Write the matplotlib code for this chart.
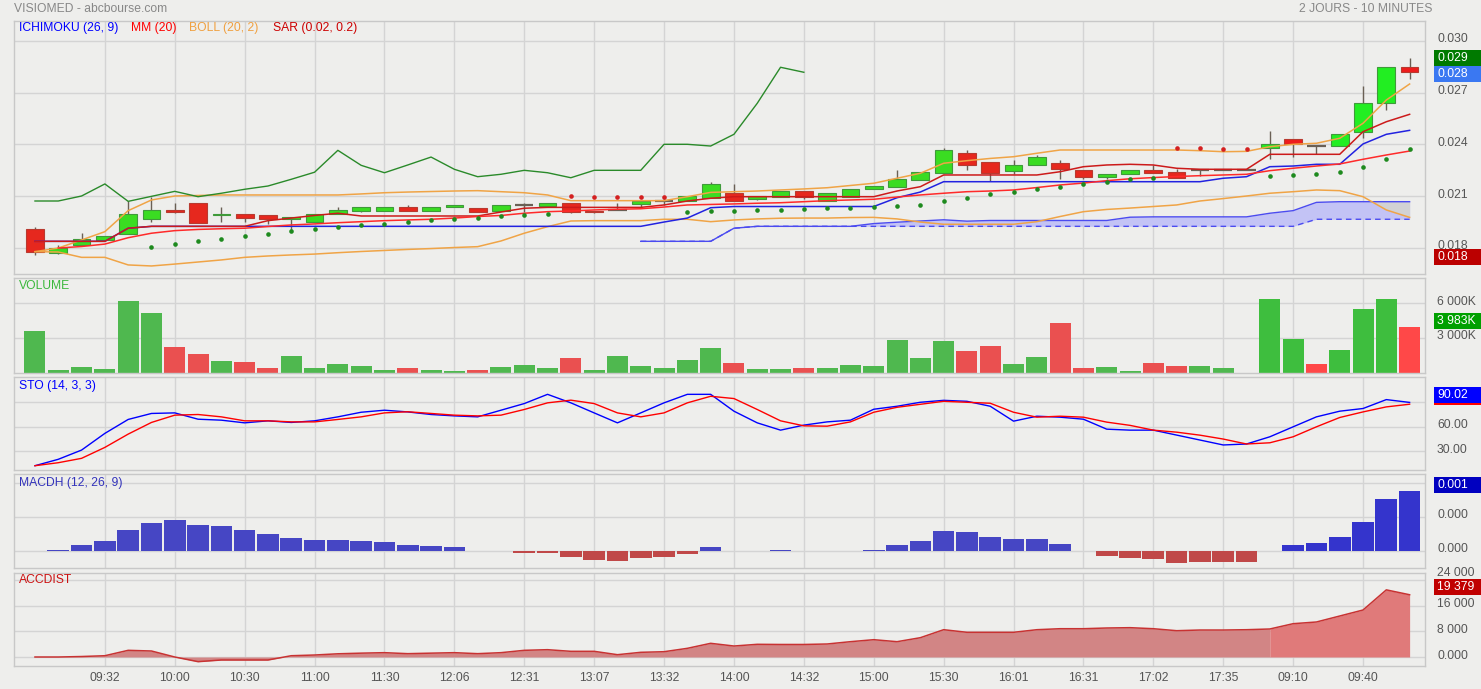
import numpy as np
import matplotlib
matplotlib.use('Agg')
import matplotlib.pyplot as plt
from matplotlib.patches import Rectangle

plt.rcParams['font.family'] = ['Liberation Sans', 'DejaVu Sans']

# ---- data (10 minute candles, 2 sessions) ----
tick_pos = [3, 6, 9, 12, 15, 18, 21, 24, 27, 30, 33, 36, 39, 42, 45, 48, 51, 54, 57]
tick_labels = ['09:32', '10:00', '10:30', '11:00', '11:30', '12:06', '12:31', '13:07', '13:32',
               '14:00', '14:32', '15:00', '15:30', '16:01', '16:31', '17:02', '17:35', '09:10', '09:40']
day2_start = 53

opens = [0.01907, 0.01767, 0.01814, 0.01846, 0.01878, 0.01965, 0.02019, 0.02059, 0.01988, 0.01996,
         0.0199, 0.01965, 0.01947, 0.01997, 0.02015, 0.02015, 0.02034, 0.02015, 0.02034, 0.02029,
         0.02015, 0.02048, 0.02044, 0.02059, 0.02013, 0.02016, 0.02055, 0.02071, 0.02069, 0.02087,
         0.02119, 0.02084, 0.02094, 0.02127, 0.02073, 0.02096, 0.02141, 0.02154, 0.02195, 0.02235,
         0.02348, 0.02296, 0.02247, 0.02278, 0.0229, 0.02249, 0.02212, 0.02226, 0.02249, 0.02238,
         0.02249, 0.02249, 0.02249, 0.02377, 0.02429, 0.0239, 0.0239, 0.0247, 0.02638, 0.02847]
highs = [0.0192, 0.01816, 0.01887, 0.01868, 0.02071, 0.02096, 0.02061, 0.02059, 0.02034, 0.01996,
         0.0199, 0.01976, 0.01996, 0.02036, 0.02034, 0.02034, 0.0205, 0.02034, 0.02046, 0.02029,
         0.02048, 0.02061, 0.02059, 0.02059, 0.02013, 0.02061, 0.02071, 0.02084, 0.021, 0.02183,
         0.0217, 0.02098, 0.02127, 0.02127, 0.02116, 0.02139, 0.02158, 0.02251, 0.02238, 0.02377,
         0.02367, 0.02296, 0.02309, 0.02338, 0.02309, 0.02249, 0.02226, 0.02249, 0.0228, 0.02257,
         0.02259, 0.02249, 0.02249, 0.02477, 0.02429, 0.0239, 0.02458, 0.02738, 0.02847, 0.02899]
lows = [0.0176, 0.01765, 0.01814, 0.01846, 0.01878, 0.01951, 0.02, 0.01945, 0.01951, 0.01951,
        0.01939, 0.01899, 0.01947, 0.01997, 0.02007, 0.02015, 0.02015, 0.02015, 0.02034, 0.02005,
        0.02015, 0.02009, 0.02044, 0.02, 0.02003, 0.02016, 0.02038, 0.0205, 0.02069, 0.02087,
        0.02069, 0.02077, 0.02094, 0.02083, 0.02073, 0.02096, 0.02141, 0.02154, 0.02195, 0.02235,
        0.02253, 0.02187, 0.02228, 0.02278, 0.022, 0.02197, 0.02197, 0.02226, 0.02235, 0.02206,
        0.02216, 0.02249, 0.02249, 0.02313, 0.02324, 0.02343, 0.0239, 0.02437, 0.02599, 0.02779]
closes = [0.01777, 0.01797, 0.01849, 0.01866, 0.01996, 0.02019, 0.02005, 0.01945, 0.01996, 0.01974,
          0.01965, 0.01976, 0.01996, 0.02017, 0.02034, 0.02034, 0.02015, 0.02034, 0.02046, 0.02005,
          0.02048, 0.02048, 0.02059, 0.02005, 0.02005, 0.02016, 0.02071, 0.02071, 0.021, 0.0217,
          0.02069, 0.02098, 0.02127, 0.02096, 0.02116, 0.02139, 0.02158, 0.02197, 0.02238, 0.02365,
          0.02278, 0.02235, 0.0228, 0.02326, 0.02255, 0.02212, 0.02226, 0.02249, 0.02235, 0.02206,
          0.02249, 0.02249, 0.02249, 0.024, 0.024, 0.0239, 0.02458, 0.02638, 0.02847, 0.02818]

# ichimoku (26, 9)
tenkan = [0.01837, 0.01837, 0.01837, 0.01837, 0.01913, 0.01924, 0.01924, 0.01924, 0.01924, 0.01924,
          0.01957, 0.01972, 0.01987, 0.02, 0.01984, 0.01984, 0.01984, 0.01984, 0.01984, 0.01984,
          0.02007, 0.02029, 0.02034, 0.02034, 0.02034, 0.02034, 0.02034, 0.02048, 0.02071, 0.02087,
          0.02096, 0.02096, 0.02096, 0.02096, 0.02096, 0.02096, 0.02096, 0.02129, 0.02154, 0.02222,
          0.02222, 0.02222, 0.02222, 0.02222, 0.02241, 0.0227, 0.0228, 0.02284, 0.0228, 0.02261,
          0.02255, 0.02255, 0.02255, 0.02342, 0.02342, 0.02342, 0.02342, 0.02473, 0.02531, 0.02574]
kijun = [0.01837, 0.01837, 0.01837, 0.01837, 0.01913, 0.01924, 0.01924, 0.01924, 0.01924, 0.01924,
         0.01924, 0.01924, 0.01924, 0.01924, 0.01924, 0.01924, 0.01924, 0.01924, 0.01924, 0.01924,
         0.01924, 0.01924, 0.01924, 0.01924, 0.01924, 0.01924, 0.01924, 0.01949, 0.01972, 0.02032,
         0.02039, 0.02039, 0.02039, 0.02039, 0.02039, 0.02039, 0.02039, 0.0209, 0.02123, 0.02183,
         0.02183, 0.02183, 0.02183, 0.02183, 0.02183, 0.02183, 0.02183, 0.02183, 0.02183, 0.02183,
         0.02183, 0.02203, 0.02212, 0.0227, 0.02274, 0.02284, 0.02284, 0.02402, 0.02458, 0.02481]
# senkou spans, from candle 26 to the end
span_a = [0.01837, 0.01837, 0.01837, 0.01837, 0.01913, 0.01924, 0.01924, 0.01924, 0.01924, 0.01924,
          0.0194, 0.01948, 0.01955, 0.01962, 0.01954, 0.01958, 0.01958, 0.01958, 0.01958, 0.01958,
          0.01958, 0.01977, 0.01979, 0.01979, 0.01979, 0.01979, 0.01979, 0.02, 0.02015, 0.02063,
          0.02067, 0.02067, 0.02067, 0.02067]
span_b = [0.01837, 0.01837, 0.01837, 0.01837, 0.01913, 0.01924, 0.01924, 0.01924, 0.01924, 0.01924,
          0.01924, 0.01924, 0.01924, 0.01924, 0.01924, 0.01924, 0.01924, 0.01924, 0.01924, 0.01924,
          0.01924, 0.01924, 0.01924, 0.01924, 0.01924, 0.01924, 0.01924, 0.01924, 0.01924, 0.01965,
          0.01965, 0.01965, 0.01965, 0.01965]
# chikou span, candle 0 to 33
chikou = [0.02071, 0.02071, 0.021, 0.0217, 0.02069, 0.02098, 0.02127, 0.02096, 0.02116, 0.02139,
          0.02158, 0.02197, 0.02238, 0.02365, 0.02278, 0.02235, 0.0228, 0.02326, 0.02255, 0.02212,
          0.02226, 0.02249, 0.02235, 0.02206, 0.02249, 0.02249, 0.02249, 0.024, 0.024, 0.0239,
          0.02458, 0.02638, 0.02847, 0.02818]

# MM (20), candle 1 to the end
mm20 = [0.01798, 0.01807, 0.01821, 0.01858, 0.01884, 0.01899, 0.01906, 0.0191, 0.01913,
        0.01923, 0.01932, 0.01938, 0.01945, 0.01951, 0.01957, 0.01961, 0.01965, 0.01972, 0.01981,
        0.01987, 0.02, 0.02009, 0.02013, 0.02019, 0.02023, 0.02026, 0.02036, 0.02048, 0.02051,
        0.02054, 0.02058, 0.02061, 0.02067, 0.02073, 0.02077, 0.02081, 0.02094, 0.02106, 0.02116,
        0.02125, 0.02129, 0.02135, 0.02149, 0.02164, 0.02175, 0.02189, 0.022, 0.02207, 0.02213,
        0.02218, 0.02222, 0.02226, 0.02247, 0.02261, 0.02274, 0.02286, 0.02313, 0.02338, 0.02361]

# BOLL (20, 2)
boll_up = [0.01777, 0.01798, 0.01845, 0.01893, 0.02015, 0.02077, 0.021, 0.02103, 0.02106, 0.02106,
           0.02106, 0.02106, 0.02106, 0.02106, 0.02112, 0.02119, 0.02123, 0.02126, 0.02129, 0.02131,
           0.02125, 0.02119, 0.02106, 0.02073, 0.02073, 0.02073, 0.02073, 0.02073, 0.02096, 0.02121,
           0.02125, 0.02129, 0.02135, 0.02141, 0.02148, 0.02161, 0.02174, 0.02203, 0.02232, 0.0229,
           0.02305, 0.02318, 0.02328, 0.02348, 0.02367, 0.02367, 0.02367, 0.02367, 0.02367, 0.02367,
           0.02363, 0.02357, 0.02359, 0.02386, 0.024, 0.02406, 0.02435, 0.02522, 0.02657, 0.0275]
boll_lo = [0.01777, 0.01775, 0.01744, 0.01744, 0.017, 0.01694, 0.01705, 0.01717, 0.01729, 0.01744,
           0.01752, 0.01758, 0.01763, 0.01771, 0.01778, 0.01784, 0.0179, 0.01795, 0.01801, 0.01806,
           0.01839, 0.01884, 0.01922, 0.01955, 0.01957, 0.01957, 0.01957, 0.01965, 0.01965, 0.01951,
           0.01961, 0.01967, 0.01971, 0.01972, 0.01972, 0.01975, 0.01976, 0.01967, 0.01949, 0.01936,
           0.01936, 0.01936, 0.01936, 0.01951, 0.01981, 0.02009, 0.02022, 0.0203, 0.02039, 0.02048,
           0.02071, 0.02085, 0.021, 0.02116, 0.02125, 0.02135, 0.02131, 0.02096, 0.02019, 0.01976]

# SAR (0.02, 0.2), candle 5 to the end
sar = [0.01806, 0.01823, 0.01841, 0.01852, 0.0187, 0.01881, 0.01899, 0.0191, 0.01922, 0.01933,
       0.01939, 0.01951, 0.01962, 0.01968, 0.01974, 0.01984, 0.0199, 0.01997, 0.02102, 0.02096,
       0.02096, 0.02096, 0.02096, 0.02009, 0.02015, 0.02015, 0.02021, 0.02021, 0.02025, 0.02032,
       0.02032, 0.02038, 0.02044, 0.0205, 0.02073, 0.0209, 0.0211, 0.02125, 0.02142, 0.02154,
       0.02168, 0.02183, 0.02197, 0.02206, 0.0238, 0.0238, 0.02373, 0.02373, 0.02218, 0.02224,
       0.02229, 0.02241, 0.0227, 0.02316, 0.02373]

volume_k = [3613, 250, 530, 336, 6218, 5151, 2210, 1597, 1034, 899,
            420, 1429, 420, 756, 563, 252, 420, 252, 170, 252,
            504, 700, 420, 1260, 250, 1430, 590, 420, 1118, 2100,
            815, 336, 336, 360, 420, 647, 590, 2860, 1260, 2770,
            1850, 2270, 760, 1340, 4290, 420, 500, 170, 840, 590,
            590, 420, 0, 6350, 2940, 756, 1960, 5460, 6360, 3983]

sto_k = [11.9, 19.8, 31.2, 51.8, 69, 76.4, 77.1, 69.3, 68.1, 64.8,
         67.3, 65.3, 67.3, 72.2, 77.9, 80.4, 78.3, 75.1, 73.4, 72.2,
         80.4, 88.6, 100, 89.5, 77.1, 64.8, 77.1, 89.5, 100, 100,
         79.2, 64.8, 55.8, 62, 66, 68.1, 81.6, 85.3, 90.2, 92.6,
         91.4, 85.3, 66.9, 73, 71.8, 69.3, 57, 55.8, 55.8, 49.7,
         43.6, 37.5, 38.7, 47.6, 59.9, 72.2, 79.2, 82.5, 93.5, 90.02]
sto_d = [11.9, 15.6, 21, 34.5, 50.9, 65.3, 74.3, 75.1, 72.2, 67.3,
         67.3, 66, 66, 69, 72.2, 77.1, 78.5, 76.4, 74.3, 73.4,
         74.3, 81.3, 89.5, 92.8, 88.6, 77.1, 72.2, 77.1, 89.5, 97.6,
         94.8, 81.3, 67.3, 61.1, 60.7, 66, 77.9, 84, 87.7, 91.4,
         90.2, 89, 77.9, 71.8, 73, 71.8, 65.7, 61.7, 55.8, 53.3,
         49.6, 44.8, 38.7, 40.2, 47.6, 59.9, 71.4, 78.3, 84.5, 87.8]

macdh = [0, 0.000015, 0.000093, 0.000147, 0.000309, 0.000412, 0.000456, 0.000382, 0.000368, 0.000309,
         0.00025, 0.000191, 0.000162, 0.000162, 0.000147, 0.000132, 0.00009, 0.000074, 0.000059, -0.000005,
         -0.000005, -0.00003, -0.00003, -0.000088, -0.000132, -0.000147, -0.000103, -0.000088, -0.000044, 0.000059,
         0, 0, 0.000012, -0.000005, -0.000005, 0, 0.000015, 0.000088, 0.000147, 0.000294,
         0.000279, 0.000206, 0.000176, 0.000176, 0.000103, 0, -0.00007, -0.0001, -0.00012, -0.00018,
         -0.00016, -0.00016, -0.00016, 0, 0.000084, 0.000122, 0.000206, 0.000426, 0.000765, 0.000882]

accdist = [0, 0, 150, 400, 2080, 1870, 0, -1450, -930, -930,
           -930, 400, 620, 1000, 1200, 1350, 1040, 1200, 1350, 1040,
           1350, 2080, 2280, 1770, 1770, 720, 1460, 1650, 2700, 4260,
           3420, 3950, 3900, 3900, 4050, 4770, 5390, 4770, 6010, 8500,
           7690, 7690, 7690, 8500, 8810, 8810, 9030, 9130, 8810, 8190,
           8400, 8400, 8500, 8720, 10370, 10900, 12760, 14630, 20900, 19379]

# ---- styling ----
W, H = 1481, 689
BG = '#eeeeec'
GRID = '#d4d4d4'
FRAME = '#c8c8c8'
TXT = '#555555'
FS = 8.7

x = np.arange(len(closes))
o, h, l, c = map(np.array, (opens, highs, lows, closes))
day2 = x >= day2_start

fig = plt.figure(figsize=(W / 100, H / 100), dpi=100)
fig.patch.set_facecolor(BG)


def make_panel(top, bottom, ylim, yticks):
    ax = fig.add_axes([14 / W, 1 - bottom / H, 1411 / W, (bottom - top) / H])
    ax.set_facecolor(BG)
    ax.set_xlim(-0.9, 59.66)
    ax.set_ylim(*ylim)
    ax.set_xticks(tick_pos)
    ax.set_yticks(yticks)
    ax.tick_params(length=0, labelbottom=False, labelleft=False)
    ax.grid(True, color=GRID, lw=1)
    ax.set_axisbelow(True)
    for s in ax.spines.values():
        s.set_color(FRAME)
        s.set_linewidth(1)
    return ax


def right_labels(ax, vals, texts, lift=None):
    lift = lift or [1.5] * len(vals)
    for v, t, dy in zip(vals, texts, lift):
        ax.annotate(t, xy=(1, v), xycoords=('axes fraction', 'data'), xytext=(12, dy),
                    textcoords='offset pixels', va='center', ha='left', fontsize=FS,
                    color=TXT, annotation_clip=False)


def value_box(ax, val, text, color, dy):
    yc = ax.transData.transform((0, val))[1] + dy
    fig.add_artist(Rectangle((1434 / W, (yc - 8) / H), 47 / W, 16 / H,
                             transform=fig.transFigure, color=color, lw=0))
    if text:
        fig.text(1437 / W, yc / H, text, color='white', va='center', ha='left', fontsize=FS)


# ---- main price panel ----
ax = make_panel(21, 274, (0.016474, 0.031155), [0.018, 0.021, 0.024, 0.027, 0.030])
right_labels(ax, [0.018, 0.021, 0.024, 0.027, 0.030], ['0.018', '0.021', '0.024', '0.027', '0.030'])

xa = x[26:]
ax.fill_between(xa, span_a, span_b, color='#c3c3f5', lw=0, zorder=1)
gx = x[56:]
ga = np.array(span_a[-4:])
gl = np.array(boll_lo[56:])
ax.fill_between(gx, ga, gl, where=gl < ga, interpolate=True, color='#d2d2d4', lw=0, zorder=1.2)
ax.plot(xa, span_a, color='#4b4bf0', lw=1, zorder=3)
ax.plot(xa, span_b, color='#4b4bf0', lw=1, ls=(0, (4, 3)), zorder=3)

# candles
wick = '#6a6055'
ax.vlines(x, l, h, color=wick, lw=1, zorder=2)
body = np.abs(c - o)
flat = body < 1e-7
is_up = c >= o
g_face = np.where(day2, '#22ee22', '#3adc22')
r_face = np.where(day2, '#ee1c1c', '#e6281e')
face = np.where(is_up, g_face, r_face)
edge = np.where(is_up, '#3f9a3a', '#b83a30')
m = ~flat
ax.bar(x[m], body[m], 0.76, bottom=np.minimum(o, c)[m], color=face[m], edgecolor=edge[m],
       linewidth=0.8, zorder=2.5)
ax.hlines(c[flat], x[flat] - 0.39, x[flat] + 0.39, color=wick, lw=1.6, zorder=2.5)

ax.plot(x, boll_up, color='#f0a446', lw=1.1, zorder=3)
ax.plot(x, boll_lo, color='#f0a446', lw=1.1, zorder=3)
ax.plot(x, kijun, color='#2222e0', lw=1.1, zorder=3.2)
ax.plot(x, tenkan, color='#cc1a1a', lw=1.1, zorder=3.3)
ax.plot(x[1:], mm20, color='#ff2a2a', lw=1.1, zorder=3.4)
ax.plot(x[:34], chikou, color='#2a8a2a', lw=1, zorder=3.1)

sx = x[5:]
sv = np.array(sar)
above = sv > c[5:]
ax.scatter(sx[~above], sv[~above], s=11, color='#1e8a1e', zorder=4, lw=0)
ax.scatter(sx[above], sv[above], s=11, color='#d42020', zorder=4, lw=0)

value_box(ax, max(highs), '0.029', '#007a00', 0)
value_box(ax, closes[-1], '0.028', '#3a78f2', -1.4)
value_box(ax, min(lows), '0.018', '#bb0000', -2.1)

# ---- volume ----
av = make_panel(278, 373, (-30, 8170), [3000, 6000])
right_labels(av, [3000, 6000], ['3 000K', '6 000K'])
prev = np.concatenate([[c[0]], c[:-1]])
vol_up = c >= prev
vcol = np.where(vol_up, np.where(day2, '#3ebe3e', '#4fb84f'), np.where(day2, '#ff4848', '#ea5050'))
av.bar(x, volume_k, 0.9, color=vcol, lw=0, zorder=2)
value_box(av, volume_k[-1], '3 983K', '#00a000', 5.8)

# ---- stochastic ----
ast = make_panel(377, 470, (6.6, 121.4), [30, 60, 90])
right_labels(ast, [30, 60], ['30.00', '60.00'])
ast.plot(x, sto_k, color='#0000ff', lw=1, zorder=2)
ast.plot(x, sto_d, color='#ff0000', lw=1, zorder=2.1)
value_box(ast, sto_d[-1], '', '#ff0000', 7)
value_box(ast, sto_k[-1], '90.02', '#0000ff', 7.1)

# ---- MACD histogram ----
am = make_panel(474, 568, (-0.00025, 0.001132), [0, 0.0005, 0.001])
right_labels(am, [0, 0.0005], ['0.000', '0.000'])
mh = np.array(macdh)
mcol = np.where(mh >= 0, np.where(day2, '#3434cc', '#4646c4'), '#c04848')
am.bar(x, mh, 0.93, color=mcol, lw=0, zorder=2)
value_box(am, macdh[-1], '0.001', '#0000c0', 5.7)

# ---- ACCDIST ----
aa = make_panel(573, 666, (-2800, 26150), [0, 8000, 16000, 24000])
right_labels(aa, [0, 8000, 16000, 24000], ['0.000', '8 000', '16 000', '24 000'],
             lift=[1.5, 1.5, 1.5, 6.5])
aa.fill_between(x[:day2_start + 1], 0, accdist[:day2_start + 1], color='#d28585', lw=0, zorder=1.5)
aa.fill_between(x[day2_start:], 0, accdist[day2_start:], color='#e07a7a', lw=0, zorder=1.5)
aa.plot(x, accdist, color='#c83232', lw=1.1, zorder=2)
value_box(aa, accdist[-1], '19 379', '#c00000', 7.5)

aa.tick_params(labelbottom=True, pad=4, labelsize=FS, labelcolor=TXT)
aa.set_xticklabels(tick_labels)


# ---- texts ----
def ftext(px, py, s, color, **kw):
    fig.text(px / W, 1 - py / H, s, color=color, fontsize=FS, va='center', **kw)


ftext(14, 9, 'VISIOMED - abcbourse.com', '#888888')
ftext(1432, 9, '2 JOURS - 10 MINUTES', '#888888', ha='right')
ftext(19, 28.5, 'ICHIMOKU (26, 9)', '#0000ff')
ftext(131, 28.5, 'MM (20)', '#ff0000')
ftext(189, 28.5, 'BOLL (20, 2)', '#f0a040')
ftext(273, 28.5, 'SAR (0.02, 0.2)', '#cc0000')
ftext(19, 286, 'VOLUME', '#3cb83c')
ftext(19, 385.5, 'STO (14, 3, 3)', '#0000ff')
ftext(19, 483, 'MACDH (12, 26, 9)', '#3333bb')
ftext(19, 580, 'ACCDIST', '#cc1111')

fig.savefig('out.png', dpi=100, facecolor=BG)
